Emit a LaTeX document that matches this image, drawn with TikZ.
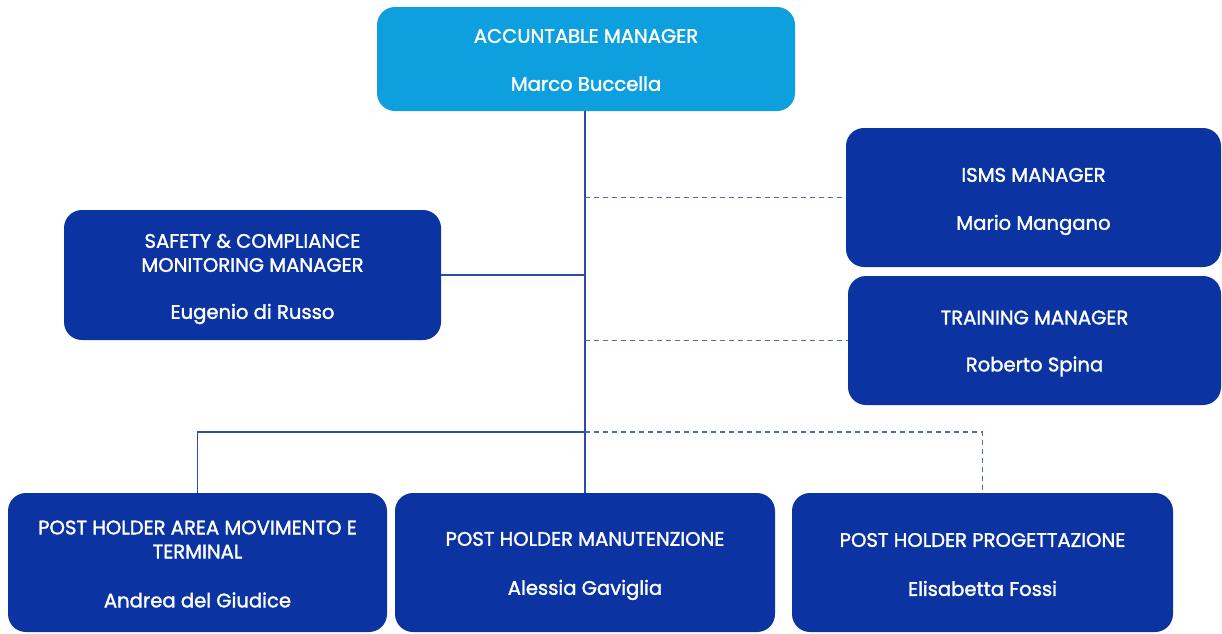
\documentclass[tikz,border=0pt]{standalone}
\usepackage{fontspec}
\setmainfont{Poppins}
\newfontfamily\medfont{Poppins}[FakeBold=1.6]
\definecolor{lightb}{HTML}{0EA0DE}
\definecolor{darkb}{HTML}{0B34A2}
\definecolor{lineb}{HTML}{2B4BB0}
\definecolor{dashb}{HTML}{5068B8}
\begin{document}
\begin{tikzpicture}[x=1pt,y=-1pt,
  box/.style={fill=darkb, rounded corners=18pt, inner sep=0pt},
  topbox/.style={box, fill=lightb},
  txt/.style={text=white, align=center, inner sep=0pt,
    font=\medfont\fontsize{19.6}{24}\selectfont},
  conn/.style={draw=lineb, line width=1.6pt},
  dconn/.style={draw=dashb, line width=1.6pt, dash pattern=on 5pt off 4pt}]
\useasboundingbox (0,0) rectangle (1222,633);

\node[topbox, minimum width=418pt, minimum height=104pt] (am) at (586,59) {};
\node[box, minimum width=375pt, minimum height=139pt] (isms) at (1033.5,197.5) {};
\node[box, minimum width=373pt, minimum height=129pt] (tm) at (1034.5,340.5) {};
\node[box, minimum width=377pt, minimum height=130pt] (sc) at (252.5,275) {};
\node[box, minimum width=379pt, minimum height=139pt] (bl) at (197.5,562.5) {};
\node[box, minimum width=380pt, minimum height=139pt] (bm) at (585,562.5) {};
\node[box, minimum width=381pt, minimum height=139pt] (br) at (982.5,562.5) {};

\node[txt] (amt) at ([yshift=-1pt]am.center) {ACCUNTABLE MANAGER\\[24pt]Marco Buccella};
\node[txt] (ismst) at ([yshift=-4pt]isms.center) {ISMS MANAGER\\[24pt]Mario Mangano};
\node[txt] (tmt) at ([yshift=-3pt]tm.center) {TRAINING MANAGER\\[23pt]Roberto Spina};
\node[txt] (sct) at ([yshift=-4pt]sc.center) {SAFETY \& COMPLIANCE\\MONITORING MANAGER\\[23pt]Eugenio di Russo};
\node[txt] (blt) at ([yshift=-1.5pt]bl.center) {POST HOLDER AREA MOVIMENTO E\\TERMINAL\\[25pt]Andrea del Giudice};
\node[txt] (bmt) at ([yshift=-3.5pt]bm.center) {POST HOLDER MANUTENZIONE\\[25pt]Alessia Gaviglia};
\node[txt] (brt) at ([yshift=-2pt]br.center) {POST HOLDER PROGETTAZIONE\\[25pt]Elisabetta Fossi};

\coordinate (hb) at (585,432);
\draw[conn] (am.south -| bm.north) -- (bm.north);
\draw[conn] (sc.east) -- (sc.east -| bm.north);
\draw[dconn] (isms.west -| bm.north) -- (isms.west);
\draw[dconn] (tm.west -| bm.north) -- (tm.west);
\draw[conn] (hb) -| (bl.north);
\draw[dconn] (hb) -| (br.north);
\end{tikzpicture}
\end{document}
